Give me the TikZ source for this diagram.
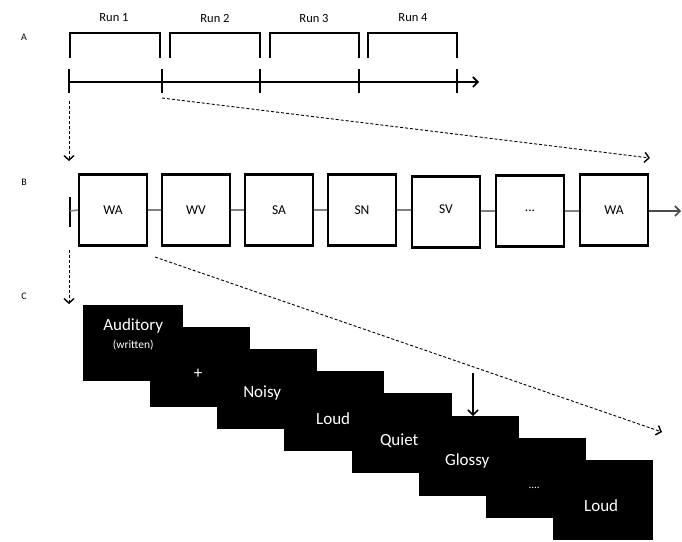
\documentclass[tikz,border=0pt]{standalone}
\usepackage{fontspec}
\setmainfont{Carlito}
\usetikzlibrary{arrows.meta}
\begin{document}
\begin{tikzpicture}[x=1pt,y=-1pt,
  panellbl/.style={font=\fontsize{10}{11}\selectfont, inner sep=0},
  runlbl/.style={font=\fontsize{12.5}{14}\selectfont, inner sep=0},
  bracket/.style={line width=1.5pt},
  axisline/.style={line width=1.6pt},
  barb/.style={-{Straight Barb[length=5pt,width=10pt,line width=1.6pt]}},
  dasharrow/.style={line width=0.9pt, dash pattern=on 3pt off 2pt, -{Straight Barb[length=4.5pt,width=10pt,line width=1.4pt]}},
  stimbox/.style={draw, fill=white, line width=2.2pt, minimum width=68pt, minimum height=71pt, inner sep=0, font=\fontsize{13.5}{15}\selectfont},
  boxline/.style={draw=black!50, line width=1.5pt},
  screen/.style={fill=black, minimum width=100pt, minimum height=80pt, inner sep=0, anchor=north west},
  scrtext/.style={text=white, font=\fontsize{17}{20}\selectfont, inner sep=0},
]
\useasboundingbox (0,0) rectangle (682,541);

% ---------- Panel A ----------
\node[panellbl] (labA) at (24,37) {A};
\node[runlbl] (run1) at (114,18) {Run 1};
\node[runlbl] (run2) at (215,18) {Run 2};
\node[runlbl] (run3) at (314,18) {Run 3};
\node[runlbl] (run4) at (413,18) {Run 4};
\draw[bracket] (70,58) -- (70,33) -- (160,33) -- (160,58);
\draw[bracket] (170,58) -- (170,33) -- (260,33) -- (260,58);
\draw[bracket] (270,58) -- (270,33) -- (359,33) -- (359,58);
\draw[bracket] (368,58) -- (368,33) -- (457,33) -- (457,58);

\coordinate (t0) at (69,82);
\coordinate (t1) at (162,82);
\coordinate (t2) at (260,82);
\coordinate (t3) at (359,82);
\coordinate (t4) at (457,82);
\coordinate (tend) at (479,82);
\draw[axisline,barb] (t0) -- (tend);
\foreach \t in {t0,t1,t2,t3,t4} \draw[line width=1.3pt] (\t) ++(0,-13) -- ++(0,24);

\coordinate (dA1) at (69,101);
\coordinate (dA2) at (69,161);
\coordinate (dB1) at (162,98);
\coordinate (dB2) at (650,158);
\draw[dasharrow] (dA1) -- (dA2);
\draw[dasharrow] (dB1) -- (dB2);

% ---------- Panel B ----------
\node[panellbl] (labB) at (24,182) {B};
\node[stimbox] (b1) at (113,210) {WA};
\node[stimbox] (b2) at (196,210) {WV};
\node[stimbox] (b3) at (279,210) {SA};
\node[stimbox] (b4) at (362,210) {SN};
\node[stimbox] (b5) at (446,212) {\raisebox{5pt}{SV}};
\node[stimbox] (b6) at (530,211) {...};
\node[stimbox] (b7) at (614,210) {WA};
\coordinate (bstart) at (70,211);
\coordinate (bend) at (681,211);
\draw[line width=1.2pt] (70,197) -- (70,227);
\draw[boxline] (bstart) -- (b1.west);
\draw[boxline] (b1.east) -- (b2.west);
\draw[boxline] (b2.east) -- (b3.west);
\draw[boxline] (b3.east) -- (b4.west);
\draw[boxline] (b4.east) -- (b5.west |- b4.east);
\draw[boxline] (b5.east |- b6.west) -- (b6.west);
\draw[boxline] (b6.east) -- (b7.west |- b6.east);
\draw[boxline, -{Straight Barb[length=5pt,width=10pt,line width=1.6pt]}, draw=black!70] (b7.east |- bend) -- (bend);

\coordinate (dC1) at (69,250);
\coordinate (dC2) at (69,304);
\coordinate (dD1) at (155,257);
\coordinate (dD2) at (662,432);
\draw[dasharrow] (dC1) -- (dC2);
\draw[dasharrow] (dD1) -- (dD2);

% ---------- Panel C ----------
\node[panellbl] (labC) at (24,296) {C};
\node[screen, minimum height=76pt] (s1) at (83,305) {};
\node[screen] (s2) at (150,327) {};
\node[screen] (s3) at (217,349) {};
\node[screen] (s4) at (284,371) {};
\node[screen] (s5) at (352,393) {};
\node[screen] (s6) at (419,416) {};
\node[screen] (s7) at (486,438) {};
\node[screen] (s8) at (553,460) {};

\node[scrtext] (tx1) at ([shift={(0,-17)}]s1.center) {Auditory};
\node[scrtext, font=\fontsize{11.5}{13}\selectfont] (tx1b) at ([shift={(0,2)}]s1.center) {(written)};
\node[scrtext] (tx2) at ([shift={(-2,7)}]s2.center) {+};
\node[scrtext] (tx3) at ([shift={(-5,4)}]s3.center) {Noisy};
\node[scrtext] (tx4) at ([shift={(-1,7)}]s4.center) {Loud};
\node[scrtext] (tx5) at ([shift={(-3,8)}]s5.center) {Quiet};
\node[scrtext] (tx6) at ([shift={(-2,5)}]s6.center) {Glossy};
\node[scrtext, font=\fontsize{11}{12}\selectfont] (tx7) at ([shift={(-2,10)}]s7.center) {....};
\node[scrtext] (tx8) at ([shift={(-2,5)}]s8.center) {Loud};

\coordinate (darr) at (473,373);
\draw[line width=1.5pt, -{Straight Barb[length=5pt,width=10pt,line width=1.5pt]}] (darr) -- (darr |- s6.north);
\end{tikzpicture}
\end{document}
